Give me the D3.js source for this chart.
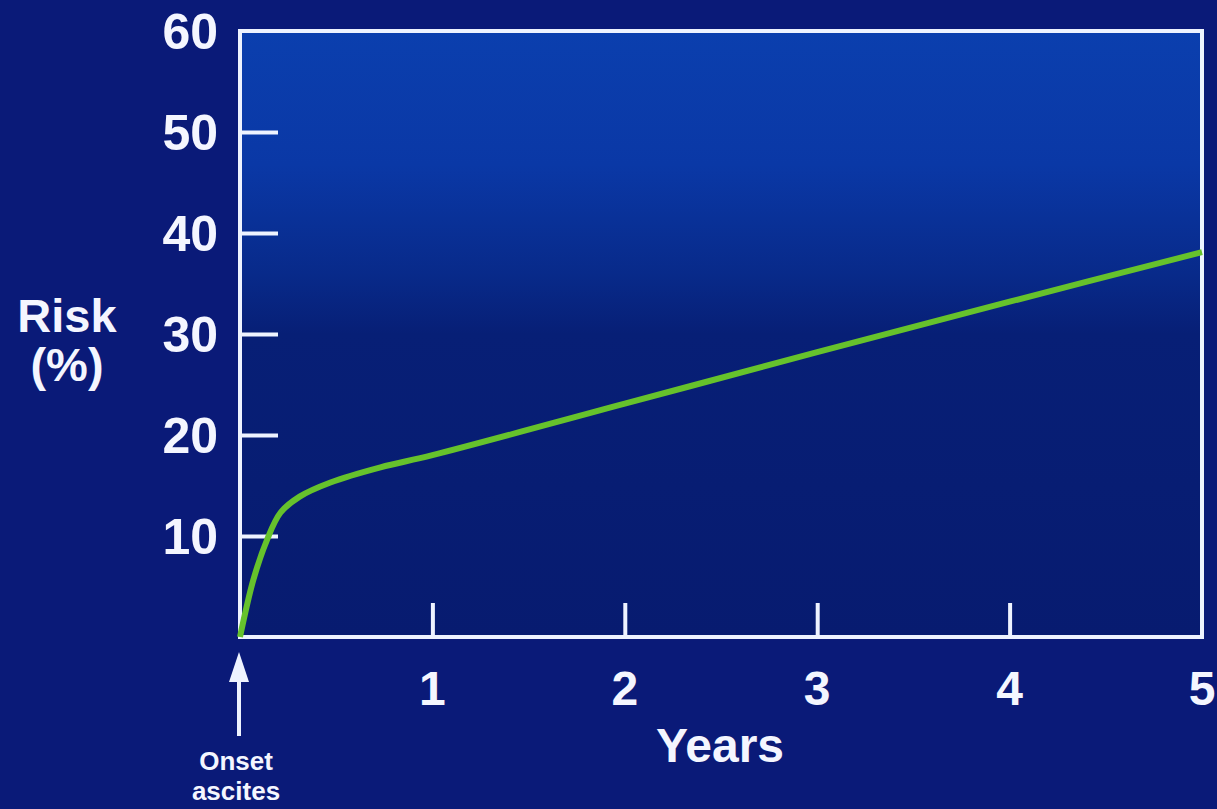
<!DOCTYPE html>
<html>
<head>
<meta charset="utf-8">
<script src="https://cdn.jsdelivr.net/npm/d3@7"></script>
<style>
  html, body { margin: 0; padding: 0; background: #0a1b78; }
  svg { display: block; }
  text { font-family: "Liberation Sans", Arial, Helvetica, sans-serif; font-weight: bold; fill: #f4f6ff; }
</style>
</head>
<body>
<svg id="chart" width="1217" height="809"></svg>
<script>
// Cumulative risk (%) after onset of ascites, by years of follow-up
const years = [0, 0.07, 0.14, 0.21, 0.31, 0.47, 0.73, 1, 2, 3, 4, 5];
const risk  = [0, 5.7, 9.6, 12.3, 13.9, 15.3, 16.8, 18.0, 23.1, 28.2, 33.2, 38.1];

const yTicks = [10, 20, 30, 40, 50, 60];
const xTicks = [1, 2, 3, 4, 5];

const W = 1217, H = 809;
const svg = d3.select("#chart");

const x = d3.scaleLinear().domain([0, 5]).range([240, 1202]);
const y = d3.scaleLinear().domain([0, 60]).range([637, 31]);

// background and plot-area gradient
const defs = svg.append("defs");
const grad = defs.append("linearGradient")
  .attr("id", "plotGrad").attr("x1", 0).attr("y1", 0).attr("x2", 0).attr("y2", 1);
[[0, "#0b3fae"], [0.22, "#0a38a6"], [0.40, "#082a8a"], [0.50, "#071f76"], [1, "#071b70"]]
  .forEach(([o, c]) => grad.append("stop").attr("offset", o).attr("stop-color", c));

svg.append("rect").attr("width", W).attr("height", H).attr("fill", "#0a1a78");
svg.append("rect")
  .attr("x", x(0)).attr("y", y(60))
  .attr("width", x(5) - x(0)).attr("height", y(0) - y(60))
  .attr("fill", "url(#plotGrad)");

const axisColor = "#eef3ff";

// left axis: ticks point into the plot
const yAxis = d3.axisRight(y).tickValues(yTicks.filter(d => d < 60)).tickSize(38).tickFormat("");
const gy = svg.append("g").attr("transform", `translate(${x(0)},0)`).call(yAxis);
gy.select(".domain").remove();
gy.selectAll(".tick line").attr("stroke", axisColor).attr("stroke-width", 4);

// bottom axis: ticks point up into the plot
const xAxis = d3.axisTop(x).tickValues(xTicks.filter(d => d < 5)).tickSize(34).tickFormat("");
const gx = svg.append("g").attr("transform", `translate(0,${y(0)})`).call(xAxis);
gx.select(".domain").remove();
gx.selectAll(".tick line").attr("stroke", axisColor).attr("stroke-width", 4);

// frame around plot
svg.append("rect")
  .attr("x", x(0)).attr("y", y(60))
  .attr("width", x(5) - x(0)).attr("height", y(0) - y(60))
  .attr("fill", "none").attr("stroke", axisColor).attr("stroke-width", 4);

// y tick labels
svg.append("g").selectAll("text").data(yTicks).join("text")
  .attr("x", 218).attr("y", d => y(d))
  .attr("dy", "0.36em")
  .attr("text-anchor", "end")
  .attr("font-size", 50)
  .text(d => d);

// x tick labels
svg.append("g").selectAll("text").data(xTicks).join("text")
  .attr("x", d => x(d)).attr("y", 705)
  .attr("text-anchor", "middle")
  .attr("font-size", 48)
  .text(d => d);

// axis titles
svg.append("text").attr("x", 67).attr("y", 332).attr("text-anchor", "middle")
  .attr("font-size", 47).text("Risk");
svg.append("text").attr("x", 67).attr("y", 381).attr("text-anchor", "middle")
  .attr("font-size", 47).text("(%)");
svg.append("text").attr("x", 720).attr("y", 762).attr("text-anchor", "middle")
  .attr("font-size", 48).text("Years");

// onset marker arrow
const ax = x(0) - 1;
svg.append("line").attr("x1", ax).attr("x2", ax).attr("y1", 736).attr("y2", 675)
  .attr("stroke", axisColor).attr("stroke-width", 4);
svg.append("path")
  .attr("d", `M${ax},652 L${ax - 10},682 L${ax + 10},682 Z`)
  .attr("fill", axisColor);
svg.append("text").attr("x", 236).attr("y", 770).attr("text-anchor", "middle")
  .attr("font-size", 26).text("Onset");
svg.append("text").attr("x", 236).attr("y", 800).attr("text-anchor", "middle")
  .attr("font-size", 26).text("ascites");

// risk curve
const line = d3.line().x(d => x(d[0])).y(d => y(d[1])).curve(d3.curveCatmullRom.alpha(0.5));
svg.append("path")
  .datum(years.map((t, i) => [t, risk[i]]))
  .attr("d", line)
  .attr("fill", "none")
  .attr("stroke", "#66c22c")
  .attr("stroke-width", 6)
  .attr("stroke-linejoin", "round");
</script>
</body>
</html>
